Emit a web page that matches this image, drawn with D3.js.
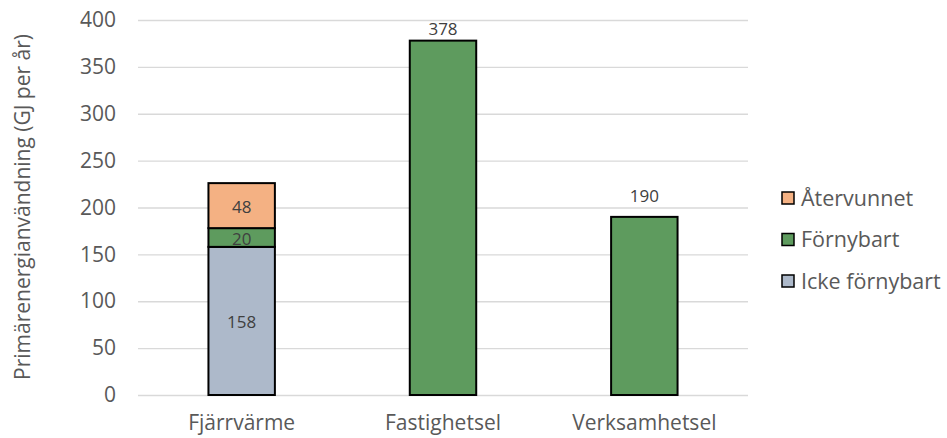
<!DOCTYPE html>
<html>
<head>
<meta charset="utf-8">
<script src="https://cdn.jsdelivr.net/npm/d3@7"></script>
<style>
body { margin: 0; background: #fff; }
text { font-family: "Open Sans", sans-serif; }
</style>
</head>
<body>
<script>
//Data
var categories = ["Fjärrvärme", "Fastighetsel", "Verksamhetsel"];
var seriesNames = ["Icke förnybart", "Förnybart", "Återvunnet"];
var icke = [158, 0, 0];
var fornybart = [20, 378, 190];
var atervunnet = [48, 0, 0];
var yTicks = [0, 50, 100, 150, 200, 250, 300, 350, 400];

var colors = ["#adb9ca", "#5e9b5e", "#f4b183"];

//Width and height
var w = 947;
var h = 438;
var margin = {left: 141, right: 202, top: 20, bottom: 43};

var svg = d3.select("body")
            .append("svg")
            .attr("width", w)
            .attr("height", h);

var x = d3.scaleBand()
          .domain(categories)
          .range([margin.left, w - margin.right])
          .paddingInner(0.67)
          .paddingOuter(0.335);

var y = d3.scaleLinear()
          .domain([0, 400])
          .range([h - margin.bottom, margin.top]);

//Gridlines
svg.append("g")
   .attr("transform", "translate(" + (margin.left - 3) + ",0)")
   .call(d3.axisLeft(y).tickValues(yTicks).tickSize(-(w - margin.left - margin.right + 6)).tickFormat(""))
   .call(g => g.select(".domain").remove())
   .selectAll("line")
   .attr("stroke", "#d9d9d9")
   .attr("stroke-width", 1.3);

//Y tick labels
svg.append("g")
   .attr("transform", "translate(116,0)")
   .call(d3.axisLeft(y).tickValues(yTicks).tickSize(0).tickPadding(0))
   .call(g => g.select(".domain").remove())
   .selectAll("text")
   .attr("font-family", "'Open Sans', sans-serif")
   .attr("font-size", "21px")
   .attr("fill", "#595959");

//Stack data
var rows = categories.map((c, i) => {
    return {cat: c, "Icke förnybart": icke[i], "Förnybart": fornybart[i], "Återvunnet": atervunnet[i]};
});
var stacked = d3.stack().keys(seriesNames)(rows);

stacked.forEach((layer, k) => {
    svg.append("g")
       .selectAll("rect")
       .data(layer.filter(d => d[1] - d[0] > 0))
       .enter()
       .append("rect")
       .attr("x", d => x(d.data.cat))
       .attr("y", d => y(d[1]))
       .attr("width", x.bandwidth())
       .attr("height", d => y(d[0]) - y(d[1]))
       .attr("fill", colors[k])
       .attr("stroke", "#000")
       .attr("stroke-width", 2);
});

//Data labels
stacked.forEach((layer, k) => {
    layer.forEach(d => {
        var v = d[1] - d[0];
        if (v <= 0) return;
        var single = d.data["Icke förnybart"] === 0 && d.data["Återvunnet"] === 0;
        svg.append("text")
           .attr("x", x(d.data.cat) + x.bandwidth() / 2)
           .attr("y", single ? Math.max(y(d[1]) - 15, 35) : y((d[0] + d[1]) / 2) + 7)
           .attr("text-anchor", "middle")
           .attr("font-size", "17px")
           .attr("fill", "#404040")
           .text(v);
    });
});

//X axis labels
svg.append("g")
   .selectAll("text")
   .data(categories)
   .enter()
   .append("text")
   .attr("x", d => x(d) + x.bandwidth() / 2)
   .attr("y", 430)
   .attr("text-anchor", "middle")
   .attr("font-size", "21px")
   .attr("fill", "#595959")
   .text(d => d);

//Y axis title
svg.append("text")
   .attr("transform", "translate(30," + 207 + ") rotate(-90)")
   .attr("text-anchor", "middle")
   .attr("font-size", "21px")
   .attr("fill", "#595959")
   .text("Primärenergianvändning (GJ per år)");

//Legend
var legendItems = seriesNames.slice().reverse();
var legendColors = colors.slice().reverse();
var legend = svg.append("g")
   .selectAll("g")
   .data(legendItems)
   .enter()
   .append("g")
   .attr("transform", (d, i) => "translate(782," + (192 + i * 41.5) + ")");

legend.append("rect")
      .attr("width", 12)
      .attr("height", 12)
      .attr("fill", (d, i) => legendColors[i])
      .attr("stroke", "#000")
      .attr("stroke-width", 1.5);

legend.append("text")
      .attr("x", 19)
      .attr("y", 13.5)
      .attr("font-size", "21.5px")
      .attr("fill", "#595959")
      .text(d => d);
</script>
</body>
</html>
